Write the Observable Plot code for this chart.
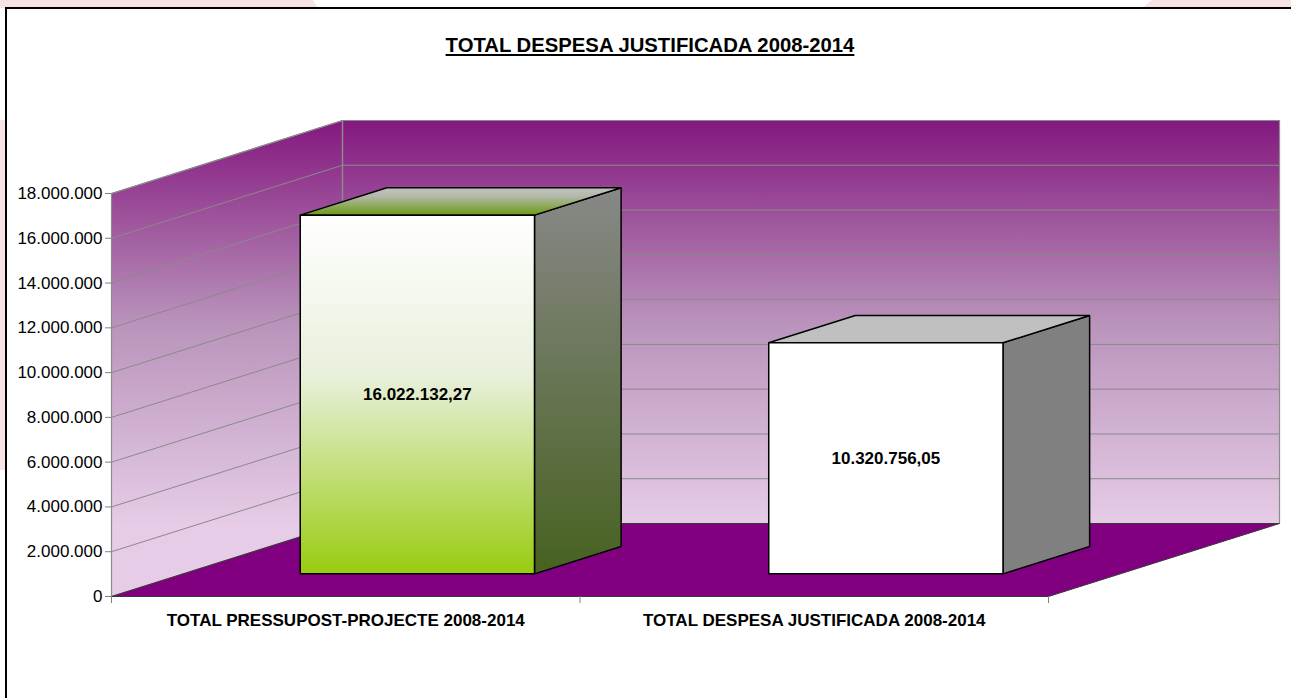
<!DOCTYPE html>
<html>
<head>
<meta charset="utf-8">
<script src="https://cdn.jsdelivr.net/npm/d3@7"></script>
<script src="https://cdn.jsdelivr.net/npm/@observablehq/plot@0.6"></script>
<style>
  html, body { margin: 0; padding: 0; background: #ffffff; overflow: hidden; width: 1291px; height: 698px; }
  .deco { position: absolute; background: #f8e3e3; }
  #frame { position: absolute; left: 5px; top: 7px; width: 2000px; height: 2000px; border: 2px solid #000; box-sizing: border-box; }
  #title { position: absolute; left: 0; top: 33px; width: 1300px; text-align: center;
           font: bold 20.3px "Liberation Sans", Arial, sans-serif; line-height: 24px; color: #000; text-decoration: underline; }
  #chart { position: absolute; left: 0; top: 80px; }
</style>
</head>
<body>
<div class="deco" style="left:0;top:0;width:318px;height:8px;clip-path:polygon(0 0,313px 0,318px 8px,0 8px)"></div>
<div class="deco" style="left:1142px;top:0;width:149px;height:8px;clip-path:polygon(10px 0,149px 0,149px 8px,0 8px)"></div>
<div class="deco" style="left:0;top:120px;width:6px;height:350px"></div>
<div id="frame"></div>
<div id="title"></div>
<div id="chart"></div>
<script>
// ---- data ----
const chartTitle = "TOTAL DESPESA JUSTIFICADA 2008-2014";
const categories = ["TOTAL PRESSUPOST-PROJECTE 2008-2014", "TOTAL DESPESA JUSTIFICADA 2008-2014"];
const values = [16022132.27, 10320756.05];
const yTicks = [0, 2000000, 4000000, 6000000, 8000000, 10000000, 12000000, 14000000, 16000000, 18000000];

// ---- formatting ----
const loc = d3.formatLocale({decimal: ",", thousands: ".", grouping: [3], currency: ["", ""]});
const fmtInt = loc.format(",.0f");
const fmtDec = loc.format(",.2f");

document.getElementById("title").textContent = chartTitle;

// ---- 3D projection (in data units) ----
const Y_MAX = yTicks[yTicks.length - 1];
const N = categories.length;
const DX = 0.4931;     // depth shift along x (category units)
const DV = 3.26e6;     // depth shift along y (value units)
const TF = 0.31, TB = 0.685, HW = 0.25; // bar front/back depth, half width

const P = (x, v, t) => ({x: x + DX * t, y: v + DV * t});
const poly = pts => { const p = pts.map(([x, v, t]) => P(x, v, t)); p.push(p[0]); return p; };

const leftWall = poly([[0, 0, 0], [0, Y_MAX, 0], [0, Y_MAX, 1], [0, 0, 1]]);
const backWall = poly([[0, 0, 1], [N, 0, 1], [N, Y_MAX, 1], [0, Y_MAX, 1]]);
const floor = poly([[0, 0, 0], [N, 0, 0], [N, 0, 1], [0, 0, 1]]);
const grid = yTicks.filter(v => v > 0).flatMap(v => [P(0, v, 0), P(0, v, 1), P(N, v, 1)].map(p => ({...p, k: v})));
const corner = [P(0, 0, 1), P(0, Y_MAX, 1)];

const faceStyles = [
  {front: "url(#b1front)", side: "url(#b1side)", top: "url(#b1top)"},
  {front: "#ffffff", side: "#808080", top: "#c0c0c0"}
];

const barMarks = [];
values.forEach((v, i) => {
  const c = i + 0.5;
  const front = poly([[c - HW, 0, TF], [c + HW, 0, TF], [c + HW, v, TF], [c - HW, v, TF]]);
  const side = poly([[c + HW, 0, TF], [c + HW, 0, TB], [c + HW, v, TB], [c + HW, v, TF]]);
  const top = poly([[c - HW, v, TF], [c + HW, v, TF], [c + HW, v, TB], [c - HW, v, TB]]);
  const st = {x: "x", y: "y", stroke: "#000", strokeWidth: 1.5, strokeLinejoin: "miter"};
  barMarks.push(Plot.line(side, {...st, fill: faceStyles[i].side}));
  barMarks.push(Plot.line(top, {...st, fill: faceStyles[i].top}));
  barMarks.push(Plot.line(front, {...st, fill: faceStyles[i].front}));
});

const barLabels = values.map((v, i) => ({...P(i + 0.5, v / 2, TF), text: fmtDec(v)}));
const catLabels = categories.map((c, i) => ({x: i + 0.5, y: 0, text: c}));

const svg = Plot.plot({
  width: 1291,
  height: 618,
  marginLeft: 111,
  marginRight: 243,
  marginTop: 113,
  marginBottom: 102,
  x: {domain: [0, N]},
  y: {domain: [0, Y_MAX]},
  style: {fontFamily: "'Liberation Sans', Arial, sans-serif", fontSize: "17px", background: "transparent", overflow: "visible", color: "#000"},
  marks: [
    Plot.line(leftWall, {x: "x", y: "y", fill: "url(#wallL)", stroke: "#8c8c8c", strokeWidth: 1.2}),
    Plot.line(backWall, {x: "x", y: "y", fill: "url(#wallB)", stroke: "#8c8c8c", strokeWidth: 1.2}),
    Plot.line(grid, {x: "x", y: "y", z: "k", stroke: "#8a8a8a", strokeWidth: 1}),
    Plot.line(corner, {x: "x", y: "y", stroke: "#8c8c8c", strokeWidth: 1.2}),
    Plot.line(floor, {x: "x", y: "y", fill: "#800080", stroke: "#3a3a3a", strokeWidth: 1}),
    Plot.axisY({ticks: yTicks, tickFormat: fmtInt, tickSize: 6, tickPadding: 3, stroke: "#808080", fill: "#000", fontSize: 17, label: null, line: true}),
    Plot.axisX({ticks: d3.range(N + 1), tickFormat: () => "", tickSize: 7, stroke: "#808080", label: null, line: true}),
    ...barMarks,
    Plot.text(barLabels, {x: "x", y: "y", text: "text", fontWeight: "bold", fontSize: 17, fill: "#000"}),
    Plot.text(catLabels, {x: "x", y: "y", text: "text", dy: 24, fontWeight: "bold", fontSize: 17, fill: "#000"})
  ]
});

// gradients
const defs = d3.select(svg).insert("defs", ":first-child");
function grad(id, stops) {
  const g = defs.append("linearGradient").attr("id", id).attr("x1", 0).attr("y1", 0).attr("x2", 0).attr("y2", 1);
  stops.forEach(([o, c]) => g.append("stop").attr("offset", o).attr("stop-color", c));
}
grad("wallB", [[0, "#84187f"], [0.5, "#b993bb"], [1, "#e6cce6"]]);
grad("wallL", [[0, "#84187f"], [0.425, "#b993bb"], [0.85, "#e6cce6"], [1, "#e6cce6"]]);
grad("b1front", [[0, "#ffffff"], [0.45, "#e8f0db"], [1, "#99cc11"]]);
grad("b1side", [[0, "#888888"], [1, "#476220"]]);
grad("b1top", [[0, "#c2c2c2"], [0.3, "#b4b9aa"], [1, "#6c9a14"]]);

document.getElementById("chart").appendChild(svg);
</script>
</body>
</html>
